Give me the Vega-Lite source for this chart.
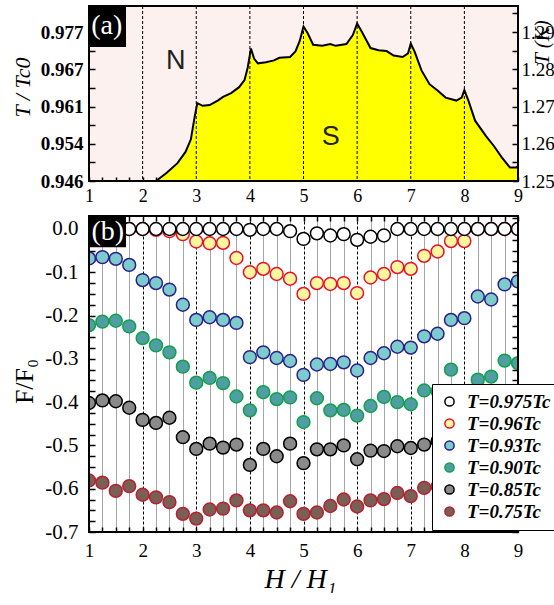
{
  "$schema": "https://vega.github.io/schema/vega-lite/v6.json",
  "background": "white",
  "padding": {"left": 11, "top": 4, "right": 0, "bottom": 0},
  "config": {
    "font": "Liberation Serif",
    "axis": {"labelFont": "Liberation Serif", "titleFont": "Liberation Serif", "labelColor": "black", "titleColor": "black", "tickColor": "black", "tickWidth": 1.5, "domain": false, "labelOverlap": false, "labelFlush": false}
  },
  "bounds": "flush",
  "spacing": 35,
  "vconcat": [
    {
      "width": 429,
      "height": 175,
      "view": {"fill": "#fcf1ee", "stroke": null},
      "data": {"values": [
        {"H": 2.25, "T": 1.25}, {"H": 2.45, "T": 1.2522}, {"H": 2.65, "T": 1.2548}, {"H": 2.8, "T": 1.2578}, {"H": 2.9, "T": 1.2612},
        {"H": 2.97, "T": 1.2672}, {"H": 3.02, "T": 1.2709}, {"H": 3.12, "T": 1.2702}, {"H": 3.25, "T": 1.2704}, {"H": 3.4, "T": 1.2716},
        {"H": 3.5, "T": 1.2726}, {"H": 3.65, "T": 1.2736}, {"H": 3.8, "T": 1.2752}, {"H": 3.9, "T": 1.2771}, {"H": 3.96, "T": 1.2805},
        {"H": 4.02, "T": 1.2856}, {"H": 4.08, "T": 1.2828}, {"H": 4.15, "T": 1.2816}, {"H": 4.3, "T": 1.2819}, {"H": 4.45, "T": 1.2824},
        {"H": 4.55, "T": 1.2831}, {"H": 4.75, "T": 1.2833}, {"H": 4.85, "T": 1.2848}, {"H": 4.93, "T": 1.2876}, {"H": 5.0, "T": 1.2915},
        {"H": 5.07, "T": 1.2899}, {"H": 5.18, "T": 1.2866}, {"H": 5.35, "T": 1.2863}, {"H": 5.5, "T": 1.2868}, {"H": 5.6, "T": 1.2863},
        {"H": 5.8, "T": 1.2868}, {"H": 5.92, "T": 1.2892}, {"H": 6.0, "T": 1.2923}, {"H": 6.08, "T": 1.2903}, {"H": 6.25, "T": 1.2857},
        {"H": 6.4, "T": 1.2851}, {"H": 6.55, "T": 1.2849}, {"H": 6.68, "T": 1.2837}, {"H": 6.85, "T": 1.2833}, {"H": 6.95, "T": 1.2843},
        {"H": 7.0, "T": 1.2869}, {"H": 7.07, "T": 1.2848}, {"H": 7.2, "T": 1.2797}, {"H": 7.35, "T": 1.276}, {"H": 7.5, "T": 1.2743},
        {"H": 7.65, "T": 1.2724}, {"H": 7.85, "T": 1.2716}, {"H": 7.95, "T": 1.2724}, {"H": 8.0, "T": 1.2744}, {"H": 8.08, "T": 1.2714},
        {"H": 8.2, "T": 1.2662}, {"H": 8.4, "T": 1.2621}, {"H": 8.55, "T": 1.2594}, {"H": 8.7, "T": 1.2563}, {"H": 8.85, "T": 1.2536},
        {"H": 8.97, "T": 1.2536}, {"H": 9.0, "T": 1.254}
      ]},
      "layer": [
        {
          "mark": {"type": "area", "color": "#ffff00", "clip": true},
          "encoding": {
            "x": {"field": "H", "type": "quantitative", "scale": {"domain": [1, 9], "nice": false, "zero": false},
              "axis": {"orient": "bottom", "title": null, "grid": false,
                "values": [1,1.25,1.5,1.75,2,2.25,2.5,2.75,3,3.25,3.5,3.75,4,4.25,4.5,4.75,5,5.25,5.5,5.75,6,6.25,6.5,6.75,7,7.25,7.5,7.75,8,8.25,8.5,8.75,9],
                "labelExpr": "datum.value % 1 == 0 ? format(datum.value, 'd') : ''",
                "labelFont": "Liberation Serif", "labelFontSize": 18, "labelPadding": 10, "tickSize": -4}},
            "y": {"field": "T", "type": "quantitative", "scale": {"domain": [1.25, 1.297], "nice": false, "zero": false},
              "axis": {"orient": "left", "grid": false,
                "values": [1.25,1.255,1.26,1.265,1.27,1.275,1.28,1.285,1.29,1.295],
                "labelExpr": "round(datum.value*1000) % 10 == 0 ? (round(datum.value*100) == 125 ? '0.946' : round(datum.value*100) == 126 ? '0.954' : round(datum.value*100) == 127 ? '0.961' : round(datum.value*100) == 128 ? '0.967' : '0.977') : ''",
                "labelFont": "Liberation Serif", "labelFontSize": 19, "labelFontWeight": "bold", "labelPadding": 12, "tickSize": -6,
                "title": "T / Tc0", "titleFontSize": 22, "titleFontStyle": "italic", "titleFontWeight": "normal",
                "titleX": -67, "titleY": 81, "titleAngle": -90, "titleAlign": "center", "titleBaseline": "middle"}}
          }
        },
        {
          "mark": {"type": "line", "color": "black", "strokeWidth": 2, "clip": true},
          "encoding": {
            "x": {"field": "H", "type": "quantitative", "axis": null},
            "y": {"field": "T", "type": "quantitative", "axis": null}
          }
        },
        {
          "data": {"values": [{"H": 2}, {"H": 3}, {"H": 4}, {"H": 5}, {"H": 6}, {"H": 7}, {"H": 8}]},
          "mark": {"type": "rule", "color": "black", "strokeWidth": 1, "strokeDash": [3, 2]},
          "encoding": {"x": {"field": "H", "type": "quantitative", "axis": null}}
        },
        {
          "data": {"values": [{}]},
          "mark": {"type": "rect", "color": "black"},
          "encoding": {
            "x": {"datum": 1, "type": "quantitative", "axis": null},
            "x2": {"datum": 1.69},
            "y": {"datum": 1.297, "type": "quantitative",
              "axis": {"orient": "right", "grid": false,
                "values": [1.25,1.255,1.26,1.265,1.27,1.275,1.28,1.285,1.29,1.295],
                "labelExpr": "round(datum.value*1000) % 10 == 0 ? format(datum.value, '.2f') : ''",
                "labelFont": "Liberation Serif", "labelFontSize": 19, "labelPadding": 9, "tickSize": -6,
                "title": "T (K)", "titleFontSize": 21, "titleFontStyle": "italic", "titleFontWeight": "normal",
                "titleX": 24, "titleY": 36, "titleAngle": -90, "titleAlign": "center", "titleBaseline": "middle"}},
            "y2": {"datum": 1.286}
          }
        },
        {
          "data": {"values": [{}]},
          "mark": {"type": "text", "text": "(a)", "color": "white", "fontSize": 28, "font": "Liberation Serif"},
          "encoding": {"x": {"datum": 1.33, "type": "quantitative", "axis": null}, "y": {"datum": 1.2915, "type": "quantitative", "axis": null}}
        },
        {
          "data": {"values": [{}]},
          "mark": {"type": "text", "text": "N", "color": "#222222", "fontSize": 27, "font": "Liberation Sans"},
          "encoding": {"x": {"datum": 2.62, "type": "quantitative", "axis": null}, "y": {"datum": 1.2822, "type": "quantitative", "axis": null}}
        },
        {
          "data": {"values": [{}]},
          "mark": {"type": "text", "text": "S", "color": "#222222", "fontSize": 27, "font": "Liberation Sans"},
          "encoding": {"x": {"datum": 5.51, "type": "quantitative", "axis": null}, "y": {"datum": 1.2618, "type": "quantitative", "axis": null}}
        },
        {
          "data": {"values": [{}]},
          "mark": {"type": "rect", "fillOpacity": 0, "stroke": "black", "strokeWidth": 2},
          "encoding": {
            "x": {"datum": 1, "type": "quantitative", "axis": null},
            "x2": {"datum": 9},
            "y": {"datum": 1.25, "type": "quantitative", "axis": null},
            "y2": {"datum": 1.297}
          }
        }
      ],
      "resolve": {"axis": {"x": "independent", "y": "independent"}}
    },
    {
      "width": 429,
      "height": 316,
      "view": {"fill": "white", "stroke": null},
      "layer": [
        {
          "data": {"values": [
            {"H":1,"T":"0.75","F":-0.581},{"H":1.25,"T":"0.75","F":-0.586},{"H":1.5,"T":"0.75","F":-0.605},{"H":1.75,"T":"0.75","F":-0.594},{"H":2,"T":"0.75","F":-0.614},{"H":2.25,"T":"0.75","F":-0.62},{"H":2.5,"T":"0.75","F":-0.631},{"H":2.75,"T":"0.75","F":-0.658},{"H":3,"T":"0.75","F":-0.669},{"H":3.25,"T":"0.75","F":-0.648},{"H":3.5,"T":"0.75","F":-0.646},{"H":3.75,"T":"0.75","F":-0.627},{"H":4,"T":"0.75","F":-0.65},{"H":4.25,"T":"0.75","F":-0.65},{"H":4.5,"T":"0.75","F":-0.655},{"H":4.75,"T":"0.75","F":-0.629},{"H":5,"T":"0.75","F":-0.658},{"H":5.25,"T":"0.75","F":-0.655},{"H":5.5,"T":"0.75","F":-0.64},{"H":5.75,"T":"0.75","F":-0.625},{"H":6,"T":"0.75","F":-0.641},{"H":6.25,"T":"0.75","F":-0.627},{"H":6.5,"T":"0.75","F":-0.624},{"H":6.75,"T":"0.75","F":-0.61},{"H":7,"T":"0.75","F":-0.617},{"H":7.25,"T":"0.75","F":-0.598},{"H":7.5,"T":"0.75","F":-0.595},{"H":7.75,"T":"0.75","F":-0.59},{"H":8,"T":"0.75","F":-0.585},{"H":8.25,"T":"0.75","F":-0.58},{"H":8.5,"T":"0.75","F":-0.575},{"H":8.75,"T":"0.75","F":-0.57},{"H":9,"T":"0.75","F":-0.565},
            {"H":1,"T":"0.85","F":-0.402},{"H":1.25,"T":"0.85","F":-0.396},{"H":1.5,"T":"0.85","F":-0.398},{"H":1.75,"T":"0.85","F":-0.413},{"H":2,"T":"0.85","F":-0.441},{"H":2.25,"T":"0.85","F":-0.448},{"H":2.5,"T":"0.85","F":-0.436},{"H":2.75,"T":"0.85","F":-0.481},{"H":3,"T":"0.85","F":-0.508},{"H":3.25,"T":"0.85","F":-0.496},{"H":3.5,"T":"0.85","F":-0.505},{"H":3.75,"T":"0.85","F":-0.498},{"H":4,"T":"0.85","F":-0.545},{"H":4.25,"T":"0.85","F":-0.508},{"H":4.5,"T":"0.85","F":-0.525},{"H":4.75,"T":"0.85","F":-0.496},{"H":5,"T":"0.85","F":-0.541},{"H":5.25,"T":"0.85","F":-0.509},{"H":5.5,"T":"0.85","F":-0.509},{"H":5.75,"T":"0.85","F":-0.5},{"H":6,"T":"0.85","F":-0.532},{"H":6.25,"T":"0.85","F":-0.512},{"H":6.5,"T":"0.85","F":-0.513},{"H":6.75,"T":"0.85","F":-0.502},{"H":7,"T":"0.85","F":-0.506},{"H":7.25,"T":"0.85","F":-0.498},{"H":7.5,"T":"0.85","F":-0.49},{"H":7.75,"T":"0.85","F":-0.485},{"H":8,"T":"0.85","F":-0.48},{"H":8.25,"T":"0.85","F":-0.475},{"H":8.5,"T":"0.85","F":-0.47},{"H":8.75,"T":"0.85","F":-0.465},{"H":9,"T":"0.85","F":-0.46},
            {"H":1,"T":"0.90","F":-0.222},{"H":1.25,"T":"0.90","F":-0.214},{"H":1.5,"T":"0.90","F":-0.212},{"H":1.75,"T":"0.90","F":-0.225},{"H":2,"T":"0.90","F":-0.252},{"H":2.25,"T":"0.90","F":-0.269},{"H":2.5,"T":"0.90","F":-0.285},{"H":2.75,"T":"0.90","F":-0.318},{"H":3,"T":"0.90","F":-0.355},{"H":3.25,"T":"0.90","F":-0.344},{"H":3.5,"T":"0.90","F":-0.356},{"H":3.75,"T":"0.90","F":-0.387},{"H":4,"T":"0.90","F":-0.419},{"H":4.25,"T":"0.90","F":-0.377},{"H":4.5,"T":"0.90","F":-0.393},{"H":4.75,"T":"0.90","F":-0.389},{"H":5,"T":"0.90","F":-0.446},{"H":5.25,"T":"0.90","F":-0.391},{"H":5.5,"T":"0.90","F":-0.419},{"H":5.75,"T":"0.90","F":-0.418},{"H":6,"T":"0.90","F":-0.431},{"H":6.25,"T":"0.90","F":-0.409},{"H":6.5,"T":"0.90","F":-0.388},{"H":6.75,"T":"0.90","F":-0.4},{"H":7,"T":"0.90","F":-0.405},{"H":7.25,"T":"0.90","F":-0.373},{"H":7.5,"T":"0.90","F":-0.375},{"H":7.75,"T":"0.90","F":-0.325},{"H":8,"T":"0.90","F":-0.375},{"H":8.25,"T":"0.90","F":-0.348},{"H":8.5,"T":"0.90","F":-0.341},{"H":8.75,"T":"0.90","F":-0.304},{"H":9,"T":"0.90","F":-0.31},
            {"H":1,"T":"0.93","F":-0.068},{"H":1.25,"T":"0.93","F":-0.065},{"H":1.5,"T":"0.93","F":-0.069},{"H":1.75,"T":"0.93","F":-0.083},{"H":2,"T":"0.93","F":-0.118},{"H":2.25,"T":"0.93","F":-0.125},{"H":2.5,"T":"0.93","F":-0.14},{"H":2.75,"T":"0.93","F":-0.175},{"H":3,"T":"0.93","F":-0.21},{"H":3.25,"T":"0.93","F":-0.204},{"H":3.5,"T":"0.93","F":-0.21},{"H":3.75,"T":"0.93","F":-0.217},{"H":4,"T":"0.93","F":-0.296},{"H":4.25,"T":"0.93","F":-0.285},{"H":4.5,"T":"0.93","F":-0.298},{"H":4.75,"T":"0.93","F":-0.305},{"H":5,"T":"0.93","F":-0.337},{"H":5.25,"T":"0.93","F":-0.313},{"H":5.5,"T":"0.93","F":-0.312},{"H":5.75,"T":"0.93","F":-0.308},{"H":6,"T":"0.93","F":-0.327},{"H":6.25,"T":"0.93","F":-0.298},{"H":6.5,"T":"0.93","F":-0.287},{"H":6.75,"T":"0.93","F":-0.272},{"H":7,"T":"0.93","F":-0.274},{"H":7.25,"T":"0.93","F":-0.248},{"H":7.5,"T":"0.93","F":-0.242},{"H":7.75,"T":"0.93","F":-0.21},{"H":8,"T":"0.93","F":-0.206},{"H":8.25,"T":"0.93","F":-0.156},{"H":8.5,"T":"0.93","F":-0.163},{"H":8.75,"T":"0.93","F":-0.128},{"H":9,"T":"0.93","F":-0.121},
            {"H":1,"T":"0.96","F":0},{"H":1.25,"T":"0.96","F":0},{"H":1.5,"T":"0.96","F":0},{"H":1.75,"T":"0.96","F":0},{"H":2,"T":"0.96","F":0},{"H":2.25,"T":"0.96","F":-0.002},{"H":2.5,"T":"0.96","F":-0.005},{"H":2.75,"T":"0.96","F":-0.012},{"H":3,"T":"0.96","F":-0.029},{"H":3.25,"T":"0.96","F":-0.033},{"H":3.5,"T":"0.96","F":-0.032},{"H":3.75,"T":"0.96","F":-0.067},{"H":4,"T":"0.96","F":-0.1},{"H":4.25,"T":"0.96","F":-0.092},{"H":4.5,"T":"0.96","F":-0.104},{"H":4.75,"T":"0.96","F":-0.115},{"H":5,"T":"0.96","F":-0.15},{"H":5.25,"T":"0.96","F":-0.125},{"H":5.5,"T":"0.96","F":-0.127},{"H":5.75,"T":"0.96","F":-0.125},{"H":6,"T":"0.96","F":-0.148},{"H":6.25,"T":"0.96","F":-0.112},{"H":6.5,"T":"0.96","F":-0.104},{"H":6.75,"T":"0.96","F":-0.088},{"H":7,"T":"0.96","F":-0.092},{"H":7.25,"T":"0.96","F":-0.062},{"H":7.5,"T":"0.96","F":-0.052},{"H":7.75,"T":"0.96","F":-0.028},{"H":8,"T":"0.96","F":-0.028},{"H":8.25,"T":"0.96","F":0},{"H":8.5,"T":"0.96","F":0},{"H":8.75,"T":"0.96","F":0},{"H":9,"T":"0.96","F":0},
            {"H":1,"T":"0.975","F":0},{"H":1.25,"T":"0.975","F":0},{"H":1.5,"T":"0.975","F":0},{"H":1.75,"T":"0.975","F":0},{"H":2,"T":"0.975","F":0},{"H":2.25,"T":"0.975","F":0},{"H":2.5,"T":"0.975","F":0},{"H":2.75,"T":"0.975","F":0},{"H":3,"T":"0.975","F":0},{"H":3.25,"T":"0.975","F":0},{"H":3.5,"T":"0.975","F":0},{"H":3.75,"T":"0.975","F":0},{"H":4,"T":"0.975","F":-0.002},{"H":4.25,"T":"0.975","F":0},{"H":4.5,"T":"0.975","F":0},{"H":4.75,"T":"0.975","F":-0.005},{"H":5,"T":"0.975","F":-0.023},{"H":5.25,"T":"0.975","F":-0.01},{"H":5.5,"T":"0.975","F":-0.015},{"H":5.75,"T":"0.975","F":-0.012},{"H":6,"T":"0.975","F":-0.025},{"H":6.25,"T":"0.975","F":-0.018},{"H":6.5,"T":"0.975","F":-0.015},{"H":6.75,"T":"0.975","F":0},{"H":7,"T":"0.975","F":0},{"H":7.25,"T":"0.975","F":0},{"H":7.5,"T":"0.975","F":0},{"H":7.75,"T":"0.975","F":0},{"H":8,"T":"0.975","F":0},{"H":8.25,"T":"0.975","F":0},{"H":8.5,"T":"0.975","F":0},{"H":8.75,"T":"0.975","F":0},{"H":9,"T":"0.975","F":0}
          ]},
          "mark": {"type": "point", "shape": "circle", "size": 165, "strokeWidth": 1.5, "opacity": 1, "clip": true},
          "encoding": {
            "x": {"field": "H", "type": "quantitative", "scale": {"domain": [1, 9], "nice": false, "zero": false},
              "axis": {"orient": "bottom",
                "values": [1,1.25,1.5,1.75,2,2.25,2.5,2.75,3,3.25,3.5,3.75,4,4.25,4.5,4.75,5,5.25,5.5,5.75,6,6.25,6.5,6.75,7,7.25,7.5,7.75,8,8.25,8.5,8.75,9],
                "labelExpr": "datum.value % 1 == 0 ? format(datum.value, 'd') : ''",
                "labelFont": "Liberation Serif", "labelFontSize": 19, "labelPadding": 14, "tickSize": -5,
                "grid": true, "gridWidth": 1,
                "gridColor": {"condition": {"test": "datum.value % 1 == 0", "value": "#000000"}, "value": "#4d4d4d"},
                "gridDash": {"condition": {"test": "datum.value % 1 == 0", "value": [3, 2]}, "value": [1, 1]},
                "title": "H / H₁", "titleFontSize": 28, "titleFontStyle": "italic", "titleFontWeight": "normal",
                "titleX": 211, "titleY": 47, "titleAlign": "center", "titleBaseline": "middle"}},
            "y": {"field": "F", "type": "quantitative", "scale": {"domain": [-0.7, 0.03], "nice": false, "zero": false},
              "axis": {"orient": "left", "grid": false,
                "values": [-0.7,-0.675,-0.65,-0.625,-0.6,-0.575,-0.55,-0.525,-0.5,-0.475,-0.45,-0.425,-0.4,-0.375,-0.35,-0.325,-0.3,-0.275,-0.25,-0.225,-0.2,-0.175,-0.15,-0.125,-0.1,-0.075,-0.05,-0.025,0,0.025],
                "labelExpr": "abs(datum.value*10 - round(datum.value*10)) < 0.001 ? ((datum.value < -0.001 ? '-' : '') + format(abs(datum.value), '.1f')) : ''",
                "labelFont": "Liberation Serif", "labelFontSize": 21, "labelPadding": 17, "tickSize": -6,
                "title": "F/F₀", "titleFontSize": 26, "titleFontWeight": "normal",
                "titleX": -65, "titleY": 165, "titleAngle": -90, "titleAlign": "center", "titleBaseline": "middle"}},
            "fill": {"field": "T", "type": "nominal",
              "scale": {"domain": ["0.975", "0.96", "0.93", "0.90", "0.85", "0.75"], "range": ["#ffffff", "#fff6a0", "#7dcccc", "#4f9ea3", "#8a8a8a", "#7a5f55"]},
              "legend": {"orient": "none", "legendX": 343, "legendY": 378, "title": null, "fillColor": "white", "strokeColor": "black", "padding": 8,
                "symbolType": "circle", "symbolSize": 85, "symbolStrokeWidth": 1.5, "symbolOpacity": 1,
                "labelFont": "Liberation Serif", "labelFontSize": 19, "labelFontWeight": "bold", "labelFontStyle": "italic", "labelOffset": 8, "rowPadding": 2, "labelLimit": 300,
                "labelExpr": "'T=' + datum.label + 'Tc'"}},
            "stroke": {"field": "T", "type": "nominal",
              "scale": {"domain": ["0.975", "0.96", "0.93", "0.90", "0.85", "0.75"], "range": ["#000000", "#e8102a", "#2c1f8c", "#12a04a", "#000000", "#b82030"]},
              "legend": {"orient": "none", "legendX": 343, "legendY": 378, "title": null, "fillColor": "white", "strokeColor": "black", "padding": 8,
                "symbolType": "circle", "symbolSize": 85, "symbolStrokeWidth": 1.5, "symbolOpacity": 1,
                "labelFont": "Liberation Serif", "labelFontSize": 19, "labelFontWeight": "bold", "labelFontStyle": "italic", "labelOffset": 8, "rowPadding": 2, "labelLimit": 300,
                "labelExpr": "'T=' + datum.label + 'Tc'"}}
          }
        },
        {
          "data": {"values": [{}]},
          "mark": {"type": "rect", "color": "black"},
          "encoding": {
            "x": {"datum": 1, "type": "quantitative",
              "axis": {"orient": "top", "grid": false, "labels": false, "title": null, "tickSize": -5,
                "values": [1,1.25,1.5,1.75,2,2.25,2.5,2.75,3,3.25,3.5,3.75,4,4.25,4.5,4.75,5,5.25,5.5,5.75,6,6.25,6.5,6.75,7,7.25,7.5,7.75,8,8.25,8.5,8.75,9]}},
            "x2": {"datum": 1.69},
            "y": {"datum": 0.03, "type": "quantitative",
              "axis": {"orient": "right", "grid": false, "labels": false, "title": null, "tickSize": -6,
                "values": [-0.7,-0.675,-0.65,-0.625,-0.6,-0.575,-0.55,-0.525,-0.5,-0.475,-0.45,-0.425,-0.4,-0.375,-0.35,-0.325,-0.3,-0.275,-0.25,-0.225,-0.2,-0.175,-0.15,-0.125,-0.1,-0.075,-0.05,-0.025,0,0.025]}},
            "y2": {"datum": -0.042}
          }
        },
        {
          "data": {"values": [{}]},
          "mark": {"type": "text", "text": "(b)", "color": "white", "fontSize": 28, "font": "Liberation Serif"},
          "encoding": {"x": {"datum": 1.35, "type": "quantitative", "axis": null}, "y": {"datum": -0.006, "type": "quantitative", "axis": null}}
        },
        {
          "data": {"values": [{}]},
          "mark": {"type": "rect", "fillOpacity": 0, "stroke": "black", "strokeWidth": 2},
          "encoding": {
            "x": {"datum": 1, "type": "quantitative", "axis": null},
            "x2": {"datum": 9},
            "y": {"datum": -0.7, "type": "quantitative", "axis": null},
            "y2": {"datum": 0.03}
          }
        }
      ],
      "resolve": {"axis": {"x": "independent", "y": "independent"}}
    }
  ]
}
